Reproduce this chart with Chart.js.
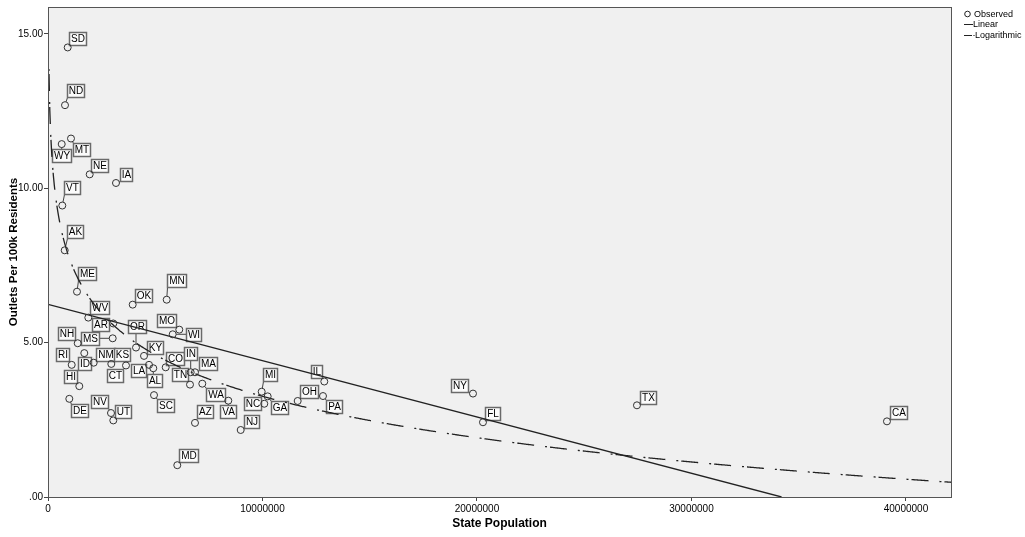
<!DOCTYPE html>
<html><head><meta charset="utf-8">
<script src="https://cdn.jsdelivr.net/npm/chart.js@4.4.1/dist/chart.umd.min.js"></script>
<style>html,body{margin:0;padding:0;background:#fff}#wrap{width:1025px;height:537px;position:relative}</style>
</head><body><div id="wrap"><canvas id="c"></canvas></div>
<script>
// ---- data ----
const states = ["SD","ND","WY","MT","NE","IA","VT","AK","ME","WV","AR","OK","MN","MO","WI","NH","MS","OR","RI","ID","NM","KS","HI","CT","LA","KY","AL","CO","IN","TN","MA","WA","VA","AZ","MD","SC","UT","NV","DE","NJ","MI","NC","GA","OH","IL","PA","NY","FL","TX","CA"];
const population = [918000,793000,639000,1072000,1944000,3170000,667000,779000,1352000,1879000,3044000,3949000,5534000,6121000,5814000,1385000,3016000,4103000,1105000,1692000,2131000,2951000,1459000,3636000,4709000,4476000,4909000,5487000,6653000,6620000,6853000,7193000,8406000,6853000,6028000,4942000,3044000,2937000,993000,8984000,9963000,10084000,10242000,11641000,12881000,12821000,19814000,20280000,27459000,39114000];
const outletsPer100k = [14.56,12.69,11.43,11.61,10.45,10.17,9.44,7.99,6.65,5.81,5.62,6.23,6.39,5.42,5.27,4.98,5.14,4.84,4.28,4.66,4.35,4.31,3.59,4.26,4.28,4.57,4.17,4.20,4.04,3.64,4.04,3.67,3.12,2.40,1.03,3.30,2.48,2.72,3.18,2.17,3.41,3.02,3.26,3.11,3.74,3.27,3.35,2.42,2.97,2.45];
const xTicks = [0,10000000,20000000,30000000,40000000];
const yTicks = [0,5,10,15];
const linearFit = [6.24, -6.24/34200000];   // intercept, slope
const logFit = [34.5, -1.938];              // a + b*ln(x)
const xMax = 42100000, yMax = 15.87;

// ---- label layout (pixel offsets of label boxes from points) ----
const labelOffsets = {SD:[9.5,-9],ND:[10,-15],WY:[0,11],MT:[11,10.5],NE:[10,-9],IA:[10,-8],VT:[10,-18],AK:[10,-19],ME:[10,-18],WV:[11,-10],AR:[-13,1.3],OK:[11,-9],MN:[10,-19],MO:[-13,-9],WI:[20.6,0.5],NH:[-11.7,-9.7],MS:[-23,0],OR:[1.3,-21.3],RI:[-9.4,-10.5],ID:[0,10.6],NM:[12,-8.5],KS:[11,-9],HI:[-9,-10],CT:[-11.3,10.5],LA:[-11,5.4],KY:[11,-8.6],AL:[1.4,12.3],CO:[9.6,-9.2],IN:[0,-18.4],TN:[-10.3,-9.8],MA:[13.3,-9.2],WA:[13,10.4],VA:[0,11],AZ:[10,-11.7],MD:[11.4,-9.2],SC:[11,10.5],UT:[10,-8.8],NV:[-11.3,-12],DE:[10.4,11.2],NJ:[11,-8.4],MI:[8.3,-17],NC:[-12,0],GA:[12.3,10.7],OH:[11,-9],IL:[-8,-10.3],PA:[11.2,10.1],NY:[-13,-8.5],FL:[10,-8.5],TX:[11,-8],CA:[11.5,-9]};

const FONT = '"Liberation Sans", Arial, sans-serif';
const observed = population.map((x,i)=>({x:x, y:outletsPer100k[i]}));
const linearLine = [{x:0,y:linearFit[0]},{x:-linearFit[0]/linearFit[1],y:0}];
const logLine = [];
for (let i=1;i<=1000;i++){ const x = xMax*i/1000; logLine.push({x:x, y:logFit[0]+logFit[1]*Math.log(x)}); }
const DASH = [2,3,17,11];

const framePlugin = {
  id:'frame',
  beforeDraw(chart){
    const {ctx, chartArea:a} = chart;
    ctx.save(); ctx.fillStyle='#f0f0f0'; ctx.fillRect(a.left,a.top,a.right-a.left,a.bottom-a.top); ctx.restore();
  },
  afterDraw(chart){
    const {ctx, chartArea:a} = chart;
    ctx.save(); ctx.strokeStyle='#555'; ctx.lineWidth=1;
    ctx.strokeRect(Math.round(a.left)+0.5,Math.round(a.top)+0.5,Math.round(a.right-a.left),Math.round(a.bottom-a.top));
    // legend
    ctx.fillStyle='#000'; ctx.font='9px '+FONT; ctx.textBaseline='middle'; ctx.textAlign='left';
    ctx.strokeStyle='#222';
    ctx.beginPath(); ctx.arc(967.5,14,2.8,0,Math.PI*2); ctx.stroke();
    ctx.fillText('Observed',974,14.5);
    ctx.beginPath(); ctx.moveTo(964,24.5); ctx.lineTo(973,24.5); ctx.stroke();
    ctx.fillText('Linear',973,25);
    ctx.beginPath(); ctx.moveTo(964,35.5); ctx.lineTo(972,35.5); ctx.stroke();
    ctx.fillRect(973.5,35,1,1);
    ctx.fillText('Logarithmic',975,36);
    ctx.restore();
  }
};

const labelPlugin = {
  id:'stateLabels',
  beforeDatasetsDraw(chart){
    const ctx = chart.ctx; const meta = chart.getDatasetMeta(0);
    ctx.save();
    ctx.font = '10px '+FONT; ctx.textAlign='center'; ctx.textBaseline='middle';
    meta.data.forEach((pt,i)=>{
      const s = states[i]; const off = labelOffsets[s] || [10,-9];
      const cx = pt.x+off[0], cy = pt.y+off[1];
      const w = Math.round(ctx.measureText(s).width+3), h = 13;
      const bx = Math.round(cx-w/2)+0.5, by = Math.round(cy-h/2)+0.5;
      // leader line from circle edge to nearest point of the box
      const ex = Math.min(Math.max(pt.x,bx),bx+w), ey = Math.min(Math.max(pt.y,by),by+h);
      const dx = ex-pt.x, dy = ey-pt.y, d = Math.hypot(dx,dy);
      if (d>3.5){
        ctx.strokeStyle='#444'; ctx.lineWidth=1;
        ctx.beginPath(); ctx.moveTo(pt.x+dx/d*3.5, pt.y+dy/d*3.5); ctx.lineTo(ex,ey); ctx.stroke();
      }
      ctx.fillStyle='#fbfbfb'; ctx.fillRect(bx,by,w,h);
      ctx.strokeStyle='#6a6a6a'; ctx.lineWidth=1.5; ctx.strokeRect(bx,by,w,h);
      ctx.fillStyle='#000'; ctx.fillText(s, bx+w/2, by+h/2+0.5);
    });
    ctx.restore();
  }
};

new Chart(document.getElementById('c'), {
  type:'scatter',
  data:{ datasets:[
    {label:'Observed', data:observed, pointStyle:'circle', pointRadius:3.5, pointHoverRadius:3.5, borderColor:'#333', borderWidth:1, backgroundColor:'rgba(0,0,0,0)', order:0},
    {label:'Linear', data:linearLine, showLine:true, pointRadius:0, borderColor:'#222', borderWidth:1.3, fill:false, order:1},
    {label:'Logarithmic', data:logLine, showLine:true, pointRadius:0, borderColor:'#222', borderWidth:1.3, borderDash:DASH, fill:false, tension:0, order:2, clip:0}
  ]},
  options:{
    responsive:true, maintainAspectRatio:false, animation:false,
    layout:{padding:{left:0,top:5,right:74,bottom:0}},
    plugins:{legend:{display:false}, tooltip:{enabled:false}},
    scales:{
      x:{type:'linear', min:0, max:xMax,
        afterBuildTicks:(s)=>{s.ticks = xTicks.map(v=>({value:v}));},
        afterFit:(s)=>{s.height=40;},
        ticks:{callback:(v)=>String(v), font:{family:FONT,size:10}, color:'#000', padding:2, maxRotation:0, autoSkip:false},
        grid:{display:true, drawOnChartArea:false, drawTicks:true, tickLength:4, color:'#444'},
        border:{display:true, color:'#444'},
        title:{display:true, text:'State Population', font:{family:FONT,size:12,weight:'bold'}, color:'#000', padding:{top:2,bottom:6}}
      },
      y:{type:'linear', min:0, max:yMax,
        afterBuildTicks:(s)=>{s.ticks = yTicks.map(v=>({value:v}));},
        afterFit:(s)=>{s.width=48;},
        ticks:{callback:(v)=> v===0 ? '.00' : v.toFixed(2), font:{family:FONT,size:10}, color:'#000', padding:1, autoSkip:false},
        grid:{display:true, drawOnChartArea:false, drawTicks:true, tickLength:4, color:'#444'},
        border:{display:true, color:'#444'},
        title:{display:true, text:'Outlets Per 100k Residents', font:{family:FONT,size:11.5,weight:'bold'}, color:'#000', padding:{top:7,bottom:2}}
      }
    }
  },
  plugins:[framePlugin,labelPlugin]
});
</script>
</body></html>
